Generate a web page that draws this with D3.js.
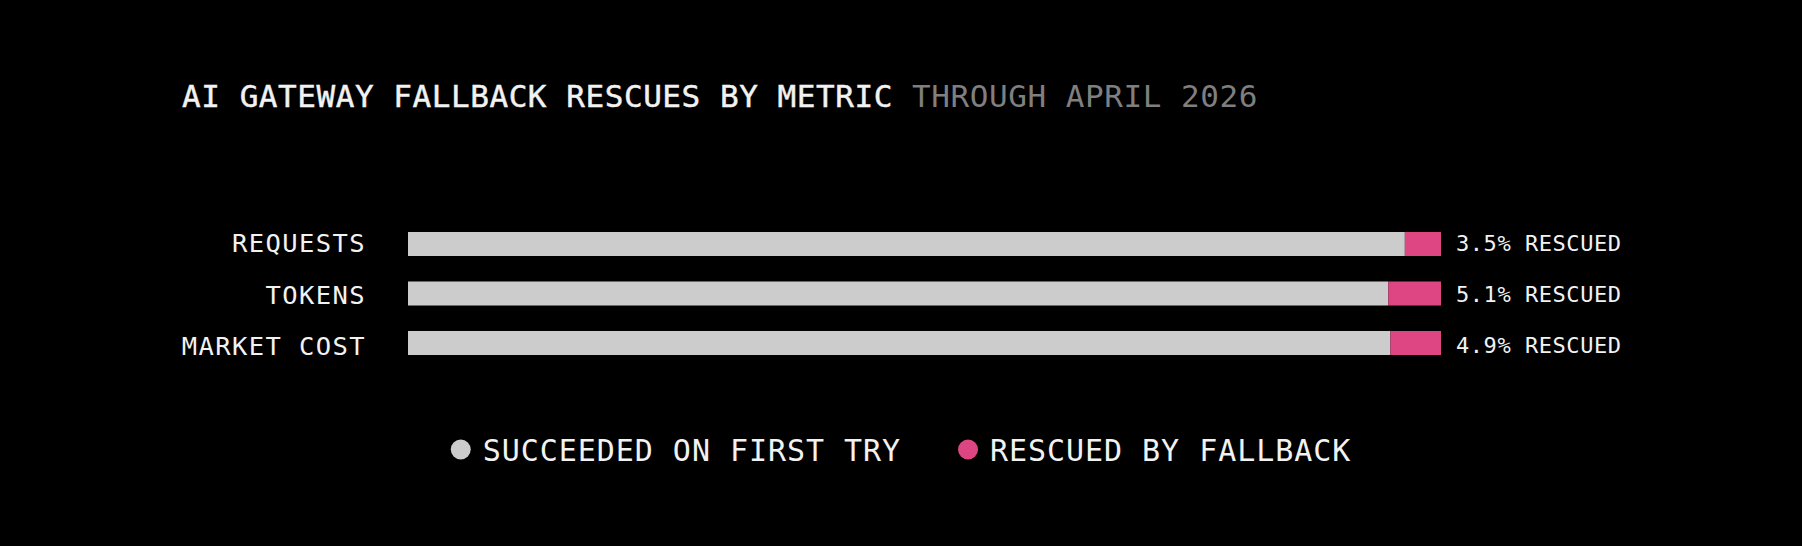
<!DOCTYPE html>
<html>
<head>
<meta charset="utf-8">
<script src="https://cdn.jsdelivr.net/npm/d3@7"></script>
<style>
  body { margin: 0; background: #000; }
  text { font-family: "DejaVu Sans Mono", "Liberation Mono", monospace; }
</style>
</head>
<body>
<div class="canvas"></div>
<script>
// data
const categories = ['REQUESTS', 'TOKENS', 'MARKET COST'];
const firstTry = [96.5, 94.9, 95.1];
const rescued = [3.5, 5.1, 4.9];
const seriesNames = ['SUCCEEDED ON FIRST TRY', 'RESCUED BY FALLBACK'];
const seriesColors = ['#cccccc', '#de4583'];

const width = 1802, height = 546;

const svg = d3.select('.canvas').append('svg')
    .attr('width', width)
    .attr('height', height);

// background
svg.append('rect')
    .attr('width', width)
    .attr('height', height)
    .attr('fill', '#000');

// title
const title = svg.append('text')
    .attr('x', 182)
    .attr('y', 107)
    .attr('font-size', 31)
    .attr('letter-spacing', 0.55);
title.append('tspan')
    .text('AI GATEWAY FALLBACK RESCUES BY METRIC')
    .attr('fill', '#f2f2f2')
    .attr('stroke', '#f2f2f2')
    .attr('stroke-width', 0.45);
title.append('tspan')
    .text(' THROUGH APRIL 2026')
    .attr('fill', '#7f7f7f');

// scales
const x = d3.scaleLinear()
    .domain([0, 100])
    .range([408, 1441]);

const y = d3.scaleBand()
    .domain(categories)
    .range([206.5, 380.5])
    .padding(0.515);

// text baselines sit on a slightly wider pitch than the bars
const yLabel = d3.scalePoint()
    .domain(categories)
    .range([252, 355]);

const yPct = d3.scalePoint()
    .domain(categories)
    .range([251, 353]);

const rows = categories.map((c, i) => ({ cat: c, first: firstTry[i], rescued: rescued[i] }));

// grey part
svg.selectAll('.bar-first')
    .data(rows)
    .enter().append('rect')
    .attr('class', 'bar-first')
    .attr('x', x(0))
    .attr('y', d => y(d.cat))
    .attr('width', d => x(d.first) - x(0))
    .attr('height', y.bandwidth())
    .attr('fill', seriesColors[0]);

// pink part
svg.selectAll('.bar-rescued')
    .data(rows)
    .enter().append('rect')
    .attr('class', 'bar-rescued')
    .attr('x', d => x(d.first))
    .attr('y', d => y(d.cat))
    .attr('width', d => x(d.first + d.rescued) - x(d.first))
    .attr('height', y.bandwidth())
    .attr('fill', seriesColors[1]);

// category labels
svg.selectAll('.cat-label')
    .data(rows)
    .enter().append('text')
    .attr('class', 'cat-label')
    .text(d => d.cat)
    .attr('x', 366)
    .attr('y', d => yLabel(d.cat))
    .attr('text-anchor', 'end')
    .attr('font-size', 25.5)
    .attr('letter-spacing', 1.4)
    .attr('fill', '#f2f2f2');

// rescued labels
svg.selectAll('.pct-label')
    .data(rows)
    .enter().append('text')
    .attr('class', 'pct-label')
    .text(d => d3.format('.1f')(d.rescued) + '% RESCUED')
    .attr('x', x(100) + 15)
    .attr('y', d => yPct(d.cat))
    .attr('font-size', 22)
    .attr('letter-spacing', 0.55)
    .attr('fill', '#f2f2f2');

// legend
const legend = svg.append('g');
const items = legend.selectAll('g')
    .data(seriesNames)
    .enter().append('g');

items.append('circle')
    .attr('r', 10)
    .attr('cx', 10)
    .attr('cy', 0)
    .attr('fill', (d, i) => seriesColors[i]);

items.append('text')
    .text(d => d)
    .attr('x', 32)
    .attr('y', 11)
    .attr('font-size', 30)
    .attr('letter-spacing', 0.95)
    .attr('fill', '#f2f2f2');

let offset = 0;
items.each(function () {
    const g = d3.select(this);
    g.attr('transform', `translate(${offset},0)`);
    const w = 32 + g.select('text').node().getComputedTextLength();
    offset += w + 57;
});
const total = offset - 57;
legend.attr('transform', `translate(${(width - total) / 2},449.5)`);
</script>
</body>
</html>
